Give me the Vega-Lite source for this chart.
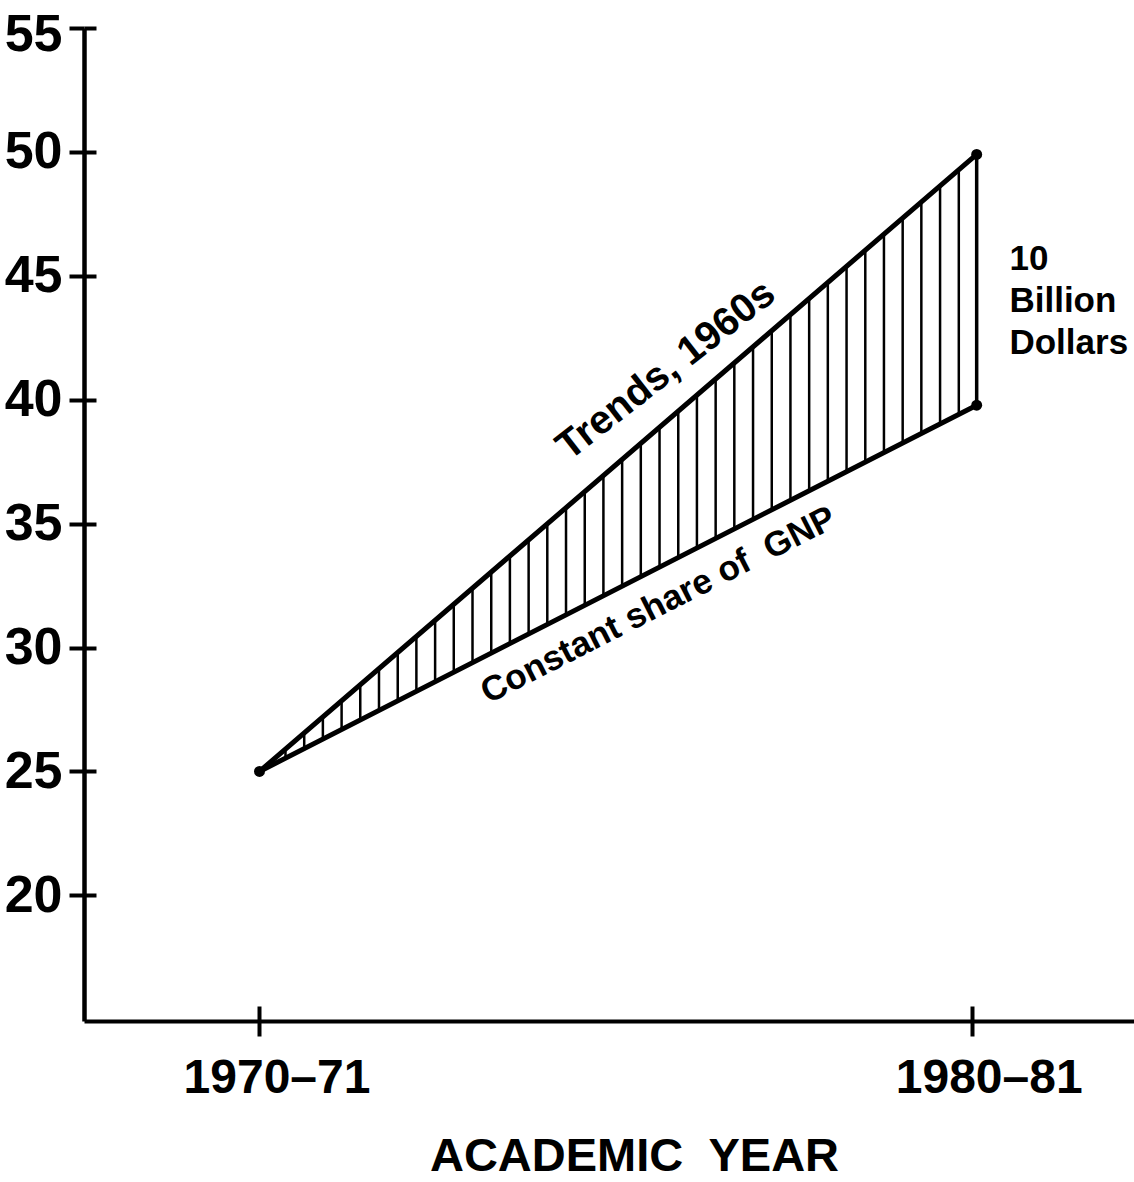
{
  "$schema": "https://vega.github.io/schema/vega-lite/v6.json",
  "width": 1050,
  "height": 993,
  "autosize": "none",
  "padding": {"left": 84, "top": 28, "right": 0, "bottom": 161},
  "background": "white",
  "config": {
    "view": {"stroke": null},
    "font": "Liberation Sans",
    "axis": {"grid": false, "domainColor": "black", "tickColor": "black", "labelColor": "black", "titleColor": "black", "labelFont": "Liberation Sans", "titleFont": "Liberation Sans", "labelFontWeight": "bold", "titleFontWeight": "bold", "labelLimit": 0},
    "axisBottom": {"domainWidth": 4, "tickWidth": 4, "tickSize": 15, "labelFontSize": 48, "labelPadding": 18, "labelOffset": 17, "titleFontSize": 47, "titleX": 550, "titleY": 149, "titleBaseline": "alphabetic", "titleAlign": "center"},
    "axisLeft": {"domainWidth": 4.5, "tickWidth": 4, "tickSize": 15, "labelFontSize": 52, "labelPadding": 7, "labelBaseline": "middle", "labelOffset": {"condition": {"test": "datum.value == 55", "value": 6}, "value": 0}},
    "axisTop": {"domain": false, "labels": false, "tickWidth": 4, "tickSize": 15},
    "axisRight": {"domain": false, "labels": false, "tickWidth": 4, "tickSize": 12}
  },
  "datasets": {
    "hatch": [
      {"year": 1970.365, "lo": 25.54, "hi": 25.90},
      {"year": 1970.628, "lo": 25.92, "hi": 26.55},
      {"year": 1970.890, "lo": 26.31, "hi": 27.20},
      {"year": 1971.153, "lo": 26.69, "hi": 27.85},
      {"year": 1971.415, "lo": 27.08, "hi": 28.50},
      {"year": 1971.678, "lo": 27.46, "hi": 29.15},
      {"year": 1971.941, "lo": 27.85, "hi": 29.80},
      {"year": 1972.203, "lo": 28.23, "hi": 30.45},
      {"year": 1972.466, "lo": 28.62, "hi": 31.10},
      {"year": 1972.728, "lo": 29.00, "hi": 31.75},
      {"year": 1972.991, "lo": 29.39, "hi": 32.40},
      {"year": 1973.254, "lo": 29.78, "hi": 33.05},
      {"year": 1973.516, "lo": 30.16, "hi": 33.69},
      {"year": 1973.779, "lo": 30.55, "hi": 34.34},
      {"year": 1974.041, "lo": 30.93, "hi": 34.99},
      {"year": 1974.304, "lo": 31.32, "hi": 35.64},
      {"year": 1974.567, "lo": 31.70, "hi": 36.29},
      {"year": 1974.829, "lo": 32.09, "hi": 36.94},
      {"year": 1975.092, "lo": 32.48, "hi": 37.59},
      {"year": 1975.354, "lo": 32.86, "hi": 38.24},
      {"year": 1975.617, "lo": 33.25, "hi": 38.89},
      {"year": 1975.880, "lo": 33.63, "hi": 39.54},
      {"year": 1976.142, "lo": 34.02, "hi": 40.19},
      {"year": 1976.405, "lo": 34.40, "hi": 40.84},
      {"year": 1976.667, "lo": 34.79, "hi": 41.49},
      {"year": 1976.930, "lo": 35.17, "hi": 42.14},
      {"year": 1977.193, "lo": 35.56, "hi": 42.79},
      {"year": 1977.455, "lo": 35.94, "hi": 43.43},
      {"year": 1977.718, "lo": 36.33, "hi": 44.08},
      {"year": 1977.980, "lo": 36.71, "hi": 44.73},
      {"year": 1978.243, "lo": 37.10, "hi": 45.38},
      {"year": 1978.506, "lo": 37.49, "hi": 46.03},
      {"year": 1978.768, "lo": 37.87, "hi": 46.68},
      {"year": 1979.031, "lo": 38.26, "hi": 47.33},
      {"year": 1979.293, "lo": 38.64, "hi": 47.98},
      {"year": 1979.556, "lo": 39.03, "hi": 48.63},
      {"year": 1979.819, "lo": 39.41, "hi": 49.28}
    ],
    "edge": [
      {"year": 1980.07, "lo": 39.78, "hi": 49.9}
    ],
    "lines": [
      {"series": "Trends, 1960s", "year": 1970.0, "value": 25.0},
      {"series": "Trends, 1960s", "year": 1980.07, "value": 49.9},
      {"series": "Constant share of GNP", "year": 1970.0, "value": 25.0},
      {"series": "Constant share of GNP", "year": 1980.07, "value": 39.78}
    ],
    "points": [
      {"year": 1970.0, "value": 25.0},
      {"year": 1980.07, "value": 49.9},
      {"year": 1980.07, "value": 39.78}
    ]
  },
  "layer": [
    {
      "layer": [
        {
          "data": {"name": "hatch"},
          "mark": {"type": "rule", "color": "black", "strokeWidth": 2.5},
          "encoding": {
            "x": {"field": "year", "type": "quantitative", "title": "ACADEMIC\u00a0 YEAR", "scale": {"domain": [1967.536, 1982.279], "nice": false, "zero": false}, "axis": {"orient": "bottom", "values": [1970, 1980], "labelExpr": "datum.value == 1970 ? '1970\u201371' : '1980\u201381'"}},
            "y": {"field": "lo", "type": "quantitative", "title": null, "scale": {"domain": [14.93, 55], "nice": false, "zero": false}, "axis": {"orient": "left", "values": [20, 25, 30, 35, 40, 45, 50, 55]}},
            "y2": {"field": "hi"}
          }
        },
        {
          "data": {"name": "edge"},
          "mark": {"type": "rule", "color": "black", "strokeWidth": 3.5},
          "encoding": {
            "x": {"field": "year", "type": "quantitative", "title": "ACADEMIC\u00a0 YEAR"},
            "y": {"field": "lo", "type": "quantitative", "title": null},
            "y2": {"field": "hi"}
          }
        },
        {
          "data": {"name": "lines"},
          "mark": {"type": "line", "color": "black", "strokeWidth": 5, "strokeCap": "round", "strokeJoin": "round"},
          "encoding": {
            "x": {"field": "year", "type": "quantitative", "title": "ACADEMIC\u00a0 YEAR"},
            "y": {"field": "value", "type": "quantitative", "title": null},
            "detail": {"field": "series"}
          }
        },
        {
          "data": {"name": "points"},
          "mark": {"type": "circle", "color": "black", "opacity": 1, "size": 120},
          "encoding": {
            "x": {"field": "year", "type": "quantitative", "title": "ACADEMIC\u00a0 YEAR"},
            "y": {"field": "value", "type": "quantitative", "title": null}
          }
        },
        {
          "data": {"values": [{"year": 1975.71, "value": 41.19, "label": "Trends, 1960s"}]},
          "mark": {"type": "text", "font": "Liberation Sans", "fontWeight": "bold", "fontSize": 40, "angle": -38, "align": "center", "baseline": "middle", "color": "black"},
          "encoding": {
            "x": {"field": "year", "type": "quantitative", "title": "ACADEMIC\u00a0 YEAR"},
            "y": {"field": "value", "type": "quantitative", "title": null},
            "text": {"field": "label"}
          }
        },
        {
          "data": {"values": [{"year": 1975.60, "value": 31.72, "label": "Constant share of\u00a0 GNP"}]},
          "mark": {"type": "text", "font": "Liberation Sans", "fontWeight": "bold", "fontSize": 35, "angle": -27, "align": "center", "baseline": "middle", "color": "black"},
          "encoding": {
            "x": {"field": "year", "type": "quantitative", "title": "ACADEMIC\u00a0 YEAR"},
            "y": {"field": "value", "type": "quantitative", "title": null},
            "text": {"field": "label"}
          }
        },
        {
          "data": {"values": [{"year": 1980.53, "value": 46.38, "label": "10\nBillion\nDollars"}]},
          "mark": {"type": "text", "font": "Liberation Sans", "fontWeight": "bold", "fontSize": 35, "lineHeight": 42, "lineBreak": "\n", "align": "left", "baseline": "top", "color": "black"},
          "encoding": {
            "x": {"field": "year", "type": "quantitative", "title": "ACADEMIC\u00a0 YEAR"},
            "y": {"field": "value", "type": "quantitative", "title": null},
            "text": {"field": "label"}
          }
        }
      ]
    },
    {
      "data": {"name": "points"},
      "mark": {"type": "point", "opacity": 0},
      "encoding": {
        "x": {"field": "year", "type": "quantitative", "title": null, "axis": {"orient": "top", "offset": -993, "values": [1970, 1980]}},
        "y": {"field": "value", "type": "quantitative", "title": null, "axis": {"orient": "right", "offset": -1050, "values": [20, 25, 30, 35, 40, 45, 50, 55]}}
      }
    }
  ],
  "resolve": {"axis": {"x": "independent", "y": "independent"}}
}
